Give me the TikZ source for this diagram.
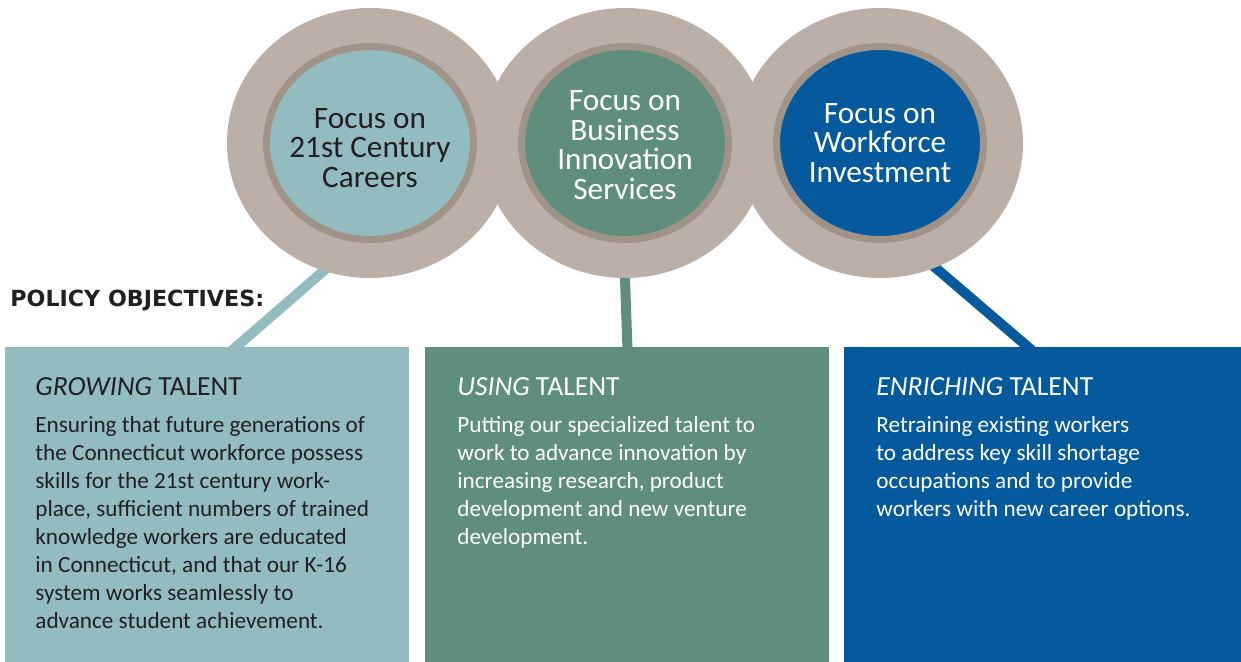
\documentclass[tikz,border=0pt]{standalone}
\usepackage{fontspec}
\setmainfont{Carlito}
\newfontfamily\policyfont{DejaVu Sans}
\usetikzlibrary{shapes.geometric,backgrounds}
\definecolor{ringtan}{HTML}{BAB0A7}
\definecolor{ringdark}{HTML}{A09489}
\definecolor{growteal}{HTML}{93BCC1}
\definecolor{usegreen}{HTML}{5F8E7D}
\definecolor{enrichblue}{HTML}{045A9C}
\definecolor{inkdark}{HTML}{231F20}
\newcommand{\objheadfont}{\fontsize{13.8}{14}\selectfont}

\begin{document}
\begin{tikzpicture}[x=0.5pt, y=-0.5pt,
    ring/.style={ellipse, fill=ringtan, minimum width=143pt, minimum height=135pt, inner sep=0pt},
    focus/.style={ellipse, draw=ringdark, line width=3.5pt, minimum width=103.5pt, minimum height=96.5pt, inner sep=0pt},
    focustext/.style={align=center, inner sep=0pt, font=\fontsize{15.6}{14.8}\selectfont},
    objbox/.style={rectangle, anchor=north west, minimum width=202pt, minimum height=157.5pt, inner sep=0pt},
    objtext/.style={anchor=north west, align=left, inner sep=0pt, font=\fontsize{11.6}{14}\selectfont},
    link/.style={line width=5pt, shorten <=-4pt, shorten >=-4pt}
]
    \useasboundingbox (0,0) rectangle (1241,662);

    % Focus circles
    \node[ring] (ring1) at (370,143) {};
    \node[focus, fill=growteal] (focus1) at (ring1) {};
    \node[focustext, text=inkdark] (title1) at ([yshift=-2.5pt]focus1.center) {Focus on\\21st Century\\Careers};

    \node[ring] (ring2) at (625,143) {};
    \node[focus, fill=usegreen] (focus2) at (ring2) {};
    \node[focustext, text=white] (title2) at ([yshift=-1pt]focus2.center) {Focus on\\Business\\Innovation\\Services};

    \node[ring] (ring3) at (880,143) {};
    \node[focus, fill=enrichblue] (focus3) at (ring3) {};
    \node[focustext, text=white] (title3) at (focus3) {Focus on\\Workforce\\Investment};

    % Objective boxes
    \node[objbox, fill=growteal] (box1) at (5,347) {};
    \node[objbox, fill=usegreen] (box2) at (425,347) {};
    \node[objbox, fill=enrichblue, minimum width=198.5pt] (box3) at (844,347) {};

    \node[anchor=base west, inner sep=0pt, text=inkdark, font=\policyfont\fontsize{11.1}{14}\selectfont\bfseries] (policy) at (10,307) {POLICY OBJECTIVES:};

    \node[objtext, text=inkdark] (obj1) at ([xshift=15pt,yshift=-15pt]box1.north west)
        {{\objheadfont\textit{GROWING} TALENT}\\[4.5pt]
         Ensuring that future generations of\\
         the Connecticut workforce possess\\
         skills for the 21st century work-\\
         place, sufficient numbers of trained\\
         knowledge workers are educated\\
         in Connecticut, and that our K-16\\
         system works seamlessly to\\
         advance student achievement.};
    \node[objtext, text=white] (obj2) at ([xshift=16pt,yshift=-15pt]box2.north west)
        {{\objheadfont\textit{USING} TALENT}\\[4.5pt]
         Putting our specialized talent to\\
         work to advance innovation by\\
         increasing research, product\\
         development and new venture\\
         development.};
    \node[objtext, text=white] (obj3) at ([xshift=16pt,yshift=-15pt]box3.north west)
        {{\objheadfont\textit{ENRICHING} TALENT}\\[4.5pt]
         Retraining existing workers\\
         to address key skill shortage\\
         occupations and to provide\\
         workers with new career options.};

    % Links behind circles and boxes
    \begin{scope}[on background layer]
        \draw[link, growteal] (ring1.-110) -- ([xshift=115.5pt]box1.north west);
        \draw[link, usegreen] (ring2.south) -- (box2.north);
        \draw[link, enrichblue] (ring3.-66) -- ([xshift=92pt]box3.north west);
    \end{scope}

\end{tikzpicture}
\end{document}
